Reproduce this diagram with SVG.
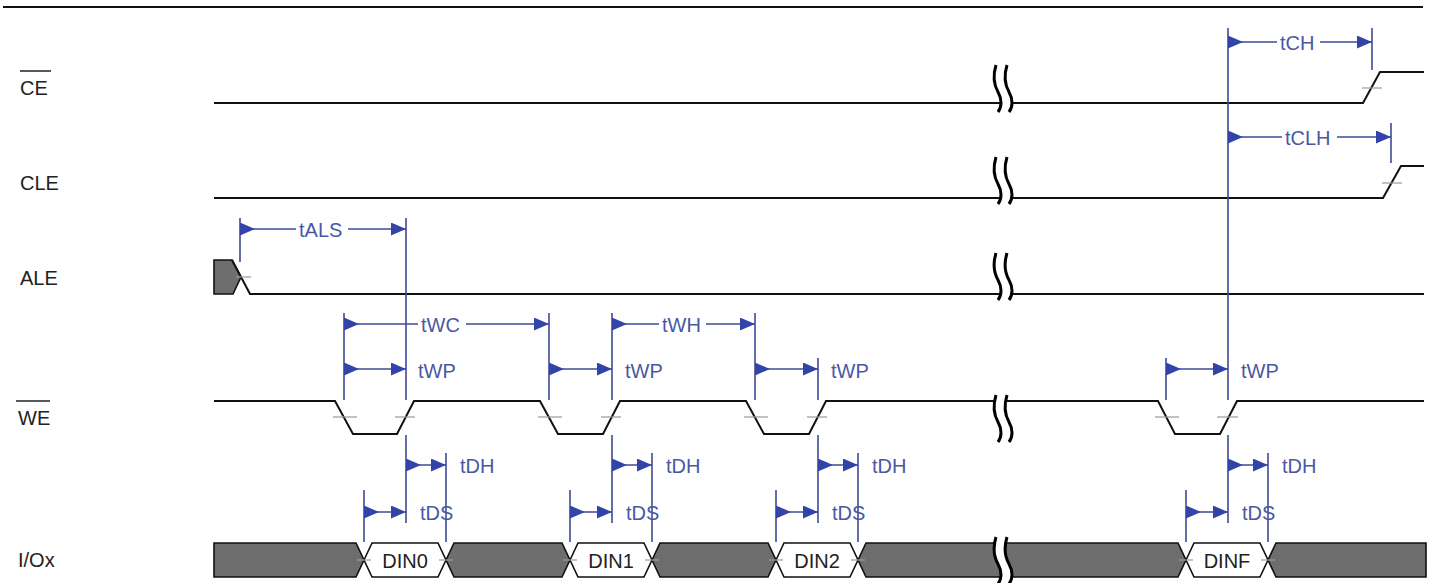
<svg xmlns="http://www.w3.org/2000/svg" width="1433" height="583" viewBox="0 0 1433 583">
<style>
.sig{fill:none;stroke:#111;stroke-width:2}
.bus{fill:#6e6e6e;stroke:#111;stroke-width:1.6}
.dat{fill:#fff;stroke:#111;stroke-width:1.6}
.tick{stroke:#9a9a9a;stroke-width:1.2}
.lbl{font-family:"Liberation Sans",Arial,sans-serif;font-size:20px;fill:#222}
.tl{font-family:"Liberation Sans",Arial,sans-serif;font-size:20px;fill:#4a58a4}
.ext{stroke:#3f4a96;stroke-width:1.6;fill:none}
.dim{stroke:#3f4a96;stroke-width:1.6;fill:none}
.s{marker-start:url(#aS)}
.e{marker-end:url(#aE)}
.brk{fill:none;stroke:#000;stroke-width:3}
</style>
<defs>
<marker id="aS" markerUnits="userSpaceOnUse" markerWidth="16" markerHeight="14" refX="0" refY="6.5" orient="auto"><path d="M0,0 L15,6.5 L0,13 z" fill="#3344a8"/></marker>
<marker id="aE" markerUnits="userSpaceOnUse" markerWidth="16" markerHeight="14" refX="15" refY="6.5" orient="auto"><path d="M0,0 L15,6.5 L0,13 z" fill="#3344a8"/></marker>
<g id="breakmark">
<path d="M2,0 C-1,10 0,20 4,27 C8,34 8,42 4,47 L15,47 C19,42 19,34 15,27 C11,20 10,10 13,0 Z" fill="#fff"/>
<path class="brk" d="M2,0 C-1,10 0,20 4,27 C8,34 8,42 4,47"/>
<path class="brk" d="M13,0 C10,10 11,20 15,27 C19,34 19,42 15,47"/>
</g>
</defs>
<rect width="1433" height="583" fill="#fff"/>
<line x1="3" y1="7" x2="1423" y2="7" stroke="#111" stroke-width="2"/>

<g id="sig-ce">
<text class="lbl" x="20" y="95">CE</text>
<line x1="20" y1="71" x2="51" y2="71" stroke="#222" stroke-width="1.5"/>
<path class="sig" d="M214,103 H1363 L1380,72 H1424"/>
<line class="tick" x1="1362" y1="88" x2="1382" y2="88"/>
<use href="#breakmark" x="994" y="65"/>
</g>

<g id="sig-cle">
<text class="lbl" x="20" y="190">CLE</text>
<path class="sig" d="M214,198 H1383 L1401,166 H1424"/>
<line class="tick" x1="1382" y1="183" x2="1402" y2="183"/>
<use href="#breakmark" x="994" y="157"/>
</g>

<g id="sig-ale">
<text class="lbl" x="20" y="285">ALE</text>
<path class="bus" d="M214,260 H232 L241,277 L233,294 H214 Z"/>
<path class="sig" d="M232,260 L250,294 H1424"/>
<line class="tick" x1="236" y1="277" x2="251" y2="277"/>
<use href="#breakmark" x="994" y="253"/>
</g>

<g id="sig-we">
<text class="lbl" x="18" y="425">WE</text>
<line x1="16" y1="401" x2="50" y2="401" stroke="#222" stroke-width="1.5"/>
<path class="sig" d="M214,401 H335 L353,434 H397 L414,401 H540 L558,434 H603 L620,401 H746 L764,434 H809 L826,401 H1158 L1175,434 H1220 L1237,401 H1424"/>
<g class="tick">
<line x1="333" y1="417" x2="357" y2="417"/><line x1="395" y1="417" x2="415" y2="417"/>
<line x1="538" y1="417" x2="562" y2="417"/><line x1="601" y1="417" x2="621" y2="417"/>
<line x1="744" y1="417" x2="768" y2="417"/><line x1="807" y1="417" x2="827" y2="417"/>
<line x1="1155" y1="417" x2="1179" y2="417"/><line x1="1217" y1="417" x2="1238" y2="417"/>
</g>
<use href="#breakmark" x="994" y="395"/>
</g>

<g id="sig-io">
<text class="lbl" x="18" y="567">I/Ox</text>
<path class="bus" d="M214,543 H356 L364,560 L356,577 H214 Z"/>
<path class="dat" d="M364,560 L372,543 H438 L446,560 L438,577 H372 Z"/>
<path class="bus" d="M446,560 L454,543 H562 L570,560 L562,577 H454 Z"/>
<path class="dat" d="M570,560 L578,543 H644 L652,560 L644,577 H578 Z"/>
<path class="bus" d="M652,560 L660,543 H768 L776,560 L768,577 H660 Z"/>
<path class="dat" d="M776,560 L784,543 H850 L858,560 L850,577 H784 Z"/>
<path class="bus" d="M858,560 L866,543 H1178 L1186,560 L1178,577 H866 Z"/>
<path class="dat" d="M1186,560 L1194,543 H1260 L1268,560 L1260,577 H1194 Z"/>
<path class="bus" d="M1268,560 L1276,543 H1426 V577 H1276 Z"/>
<g class="tick">
<line x1="357" y1="560" x2="371" y2="560"/><line x1="439" y1="560" x2="453" y2="560"/>
<line x1="563" y1="560" x2="577" y2="560"/><line x1="645" y1="560" x2="659" y2="560"/>
<line x1="769" y1="560" x2="783" y2="560"/><line x1="851" y1="560" x2="865" y2="560"/>
<line x1="1179" y1="560" x2="1193" y2="560"/><line x1="1261" y1="560" x2="1275" y2="560"/>
</g>
<text class="lbl" x="405" y="568" text-anchor="middle">DIN0</text>
<text class="lbl" x="611" y="568" text-anchor="middle">DIN1</text>
<text class="lbl" x="817" y="568" text-anchor="middle">DIN2</text>
<text class="lbl" x="1227" y="568" text-anchor="middle">DINF</text>
<use href="#breakmark" x="994" y="537"/>
</g>

<g id="connectors">
<g class="ext">
<line x1="240" y1="218" x2="240" y2="262"/>
<line x1="406" y1="218" x2="406" y2="400"/><line x1="406" y1="435" x2="406" y2="523"/>
<line x1="344" y1="313" x2="344" y2="400"/>
<line x1="549" y1="313" x2="549" y2="400"/>
<line x1="612" y1="313" x2="612" y2="400"/><line x1="612" y1="435" x2="612" y2="523"/>
<line x1="755" y1="313" x2="755" y2="400"/>
<line x1="818" y1="358" x2="818" y2="400"/><line x1="818" y1="435" x2="818" y2="523"/>
<line x1="1166" y1="358" x2="1166" y2="400"/>
<line x1="1228" y1="28" x2="1228" y2="400"/><line x1="1228" y1="435" x2="1228" y2="523"/>
<line x1="1372" y1="28" x2="1372" y2="70"/>
<line x1="1391" y1="123" x2="1391" y2="163"/>
<line x1="364" y1="490" x2="364" y2="542"/><line x1="446" y1="453" x2="446" y2="542"/>
<line x1="570" y1="490" x2="570" y2="542"/><line x1="652" y1="453" x2="652" y2="542"/>
<line x1="776" y1="490" x2="776" y2="542"/><line x1="858" y1="453" x2="858" y2="542"/>
<line x1="1186" y1="490" x2="1186" y2="542"/><line x1="1268" y1="453" x2="1268" y2="542"/>
</g>
<!-- tALS -->
<line class="dim s" x1="240" y1="229" x2="296" y2="229"/>
<line class="dim e" x1="348" y1="229" x2="406" y2="229"/>
<text class="tl" x="299" y="237">tALS</text>
<!-- tCH -->
<line class="dim s" x1="1228" y1="42" x2="1277" y2="42"/>
<line class="dim e" x1="1320" y1="42" x2="1372" y2="42"/>
<text class="tl" x="1280" y="50">tCH</text>
<!-- tCLH -->
<line class="dim s" x1="1228" y1="137" x2="1282" y2="137"/>
<line class="dim e" x1="1337" y1="137" x2="1391" y2="137"/>
<text class="tl" x="1285" y="145">tCLH</text>
<!-- tWC -->
<line class="dim s" x1="344" y1="324" x2="418" y2="324"/>
<line class="dim e" x1="466" y1="324" x2="549" y2="324"/>
<text class="tl" x="421" y="332">tWC</text>
<!-- tWH -->
<line class="dim s" x1="612" y1="324" x2="659" y2="324"/>
<line class="dim e" x1="706" y1="324" x2="755" y2="324"/>
<text class="tl" x="662" y="332">tWH</text>
<!-- tWP -->
<line class="dim s e" x1="344" y1="369" x2="406" y2="369"/>
<line class="dim s e" x1="549" y1="369" x2="612" y2="369"/>
<line class="dim s e" x1="755" y1="369" x2="818" y2="369"/>
<line class="dim s e" x1="1166" y1="369" x2="1228" y2="369"/>
<text class="tl" x="418" y="378">tWP</text>
<text class="tl" x="625" y="378">tWP</text>
<text class="tl" x="831" y="378">tWP</text>
<text class="tl" x="1241" y="378">tWP</text>
<!-- tDH -->
<line class="dim s e" x1="406" y1="465" x2="446" y2="465"/>
<line class="dim s e" x1="612" y1="465" x2="652" y2="465"/>
<line class="dim s e" x1="818" y1="465" x2="858" y2="465"/>
<line class="dim s e" x1="1228" y1="465" x2="1268" y2="465"/>
<text class="tl" x="460" y="473">tDH</text>
<text class="tl" x="666" y="473">tDH</text>
<text class="tl" x="872" y="473">tDH</text>
<text class="tl" x="1282" y="473">tDH</text>
<!-- tDS -->
<line class="dim s e" x1="364" y1="512" x2="406" y2="512"/>
<line class="dim s e" x1="570" y1="512" x2="612" y2="512"/>
<line class="dim s e" x1="776" y1="512" x2="818" y2="512"/>
<line class="dim s e" x1="1186" y1="512" x2="1228" y2="512"/>
<text class="tl" x="420" y="520">tDS</text>
<text class="tl" x="626" y="520">tDS</text>
<text class="tl" x="832" y="520">tDS</text>
<text class="tl" x="1242" y="520">tDS</text>
</g>
</svg>
